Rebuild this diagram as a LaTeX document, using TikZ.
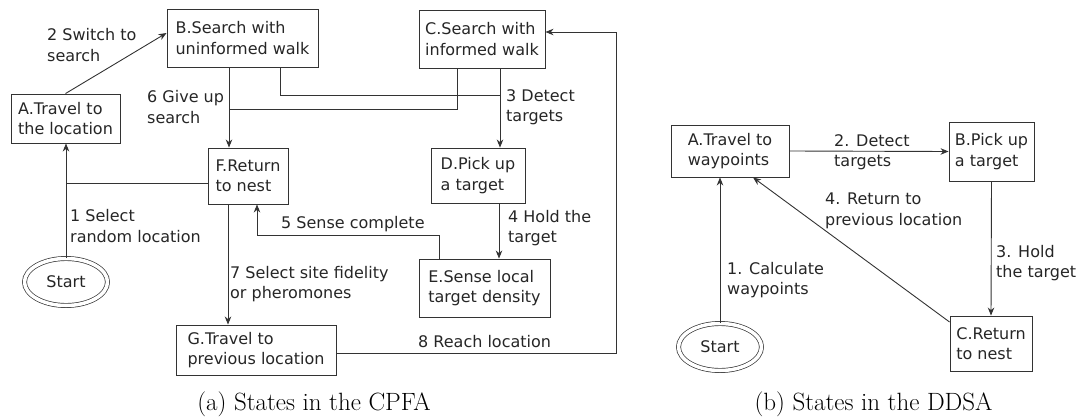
\documentclass[tikz,border=0pt]{standalone}
\usepackage{fontspec}
\usetikzlibrary{arrows.meta,shapes.geometric}
\newfontfamily\dv{DejaVu Sans}
\begin{document}
\begin{tikzpicture}[x=1pt,y=-1pt,
  every node/.style={font=\dv\fontsize{16}{20.5}\selectfont, text=black!85},
  box/.style={draw=black!80, line width=0.9pt, rectangle, align=left, inner sep=3pt},
  startnode/.style={draw=black!80, line width=0.7pt, ellipse, double, double distance=3.5pt, minimum width=83pt, minimum height=47pt},
  lbl/.style={align=left, inner sep=0pt, anchor=west},
  conn/.style={draw=black!80, line width=0.9pt},
  arr/.style={conn, -{Stealth[length=8pt,width=6.5pt,inset=2.5pt]}},
  captext/.style={font=\fontsize{25}{30}\selectfont, text=black}]
\useasboundingbox (0,0) rectangle (1079,420);
% ---------- (a) CPFA ----------
\node[box, minimum width=109pt, minimum height=49pt] (A1) at (65.5,118.5) {A.Travel to\\the location};
\node[box, minimum width=151pt, minimum height=58pt] (B1) at (242.5,38) {B.Search with\\uninformed walk};
\node[box, minimum width=126pt, minimum height=58pt] (C1) at (482,39) {C.Search with\\informed walk};
\node[box, minimum width=94pt, minimum height=55pt] (D1) at (478,175.5) {D.Pick up\\a target};
\node[box, minimum width=131pt, minimum height=58pt] (E1) at (484.5,288) {E.Sense local\\target density};
\node[box, minimum width=80pt, minimum height=56pt] (F1) at (248,176) {F.Return\\to nest};
\node[box, minimum width=160pt, minimum height=50pt] (G1) at (256,350) {G.Travel to\\previous location};
\node[startnode] (S1) at (66,282) {Start};

\coordinate (m6) at (229,109);
\coordinate (m3) at (500,95);
\coordinate (rc) at (616,32);
\coordinate (f1) at ([yshift=-7pt]F1.west);

\draw[arr] (S1.north) -- (S1.north |- A1.south);
\draw[conn] (f1) -- (f1 -| S1.north);
\draw[arr] (A1.north) -- ([yshift=5pt]B1.west);
\draw[arr] ([xshift=-13.5pt]B1.south) -- ([xshift=-19pt]F1.north);
\draw[conn] ([xshift=-25pt]C1.south) |- (m6);
\draw[conn] ([xshift=37.5pt]B1.south) |- (m3);
\draw[arr] ([xshift=18pt]C1.south) -- ([xshift=22pt]D1.north);
\draw[arr] ([xshift=21pt]D1.south) -- ([xshift=14.5pt]E1.north);
\draw[arr] ([xshift=-45.5pt]E1.north) |- ([xshift=9pt,yshift=-31pt]F1.south) -- ([xshift=9pt]F1.south);
\draw[arr] ([xshift=-20pt]F1.south) -- ([xshift=-28pt]G1.north);
\draw[arr] ([yshift=-3pt]G1.east) -| (rc) -- ([yshift=7pt]C1.east);

\node[lbl] (l2) at (47,45) {2 Switch to\\search};
\node[lbl] (l6) at (147,107) {6 Give up\\search};
\node[lbl] (l3) at (506,107) {3 Detect\\targets};
\node[lbl] (l4) at (508,228) {4 Hold the\\target};
\node[lbl] (l5) at (281,224) {5 Sense complete};
\node[lbl] (l1) at (70,226) {1 Select\\random location};
\node[lbl] (l7) at (230,284) {7 Select site fidelity\\or pheromones};
\node[lbl] (l8) at (418,342) {8 Reach location};

\node[captext] (capa) at (314,404) {(a) States in the CPFA};
% ---------- (b) DDSA ----------
\node[box, minimum width=118pt, minimum height=52pt] (A2) at (730,151) {A.Travel to\\waypoints};
\node[box, minimum width=85pt, minimum height=59pt] (B2) at (991.5,151.5) {B.Pick up\\a target};
\node[box, minimum width=82pt, minimum height=55pt] (C2) at (991,343.5) {C.Return\\to nest};
\node[startnode] (S2) at (720,347) {Start};

\draw[arr] (S2.north) -- (S2.north |- A2.south);
\draw[arr] (A2.east) -- (B2.west);
\draw[arr] (B2.south) -- (C2.north);
\draw[arr] ([yshift=21.5pt]C2.west) -- ([xshift=23pt]A2.south);

\node[lbl] (m1) at (727,280) {1. Calculate\\waypoints};
\node[lbl] (m2) at (834,152) {2. Detect\\targets};
\node[lbl] (m3l) at (996,263) {3. Hold\\the target};
\node[lbl] (m4) at (825,211) {4. Return to\\previous location};

\node[captext] (capb) at (873.5,404) {(b) States in the DDSA};
\end{tikzpicture}
\end{document}
